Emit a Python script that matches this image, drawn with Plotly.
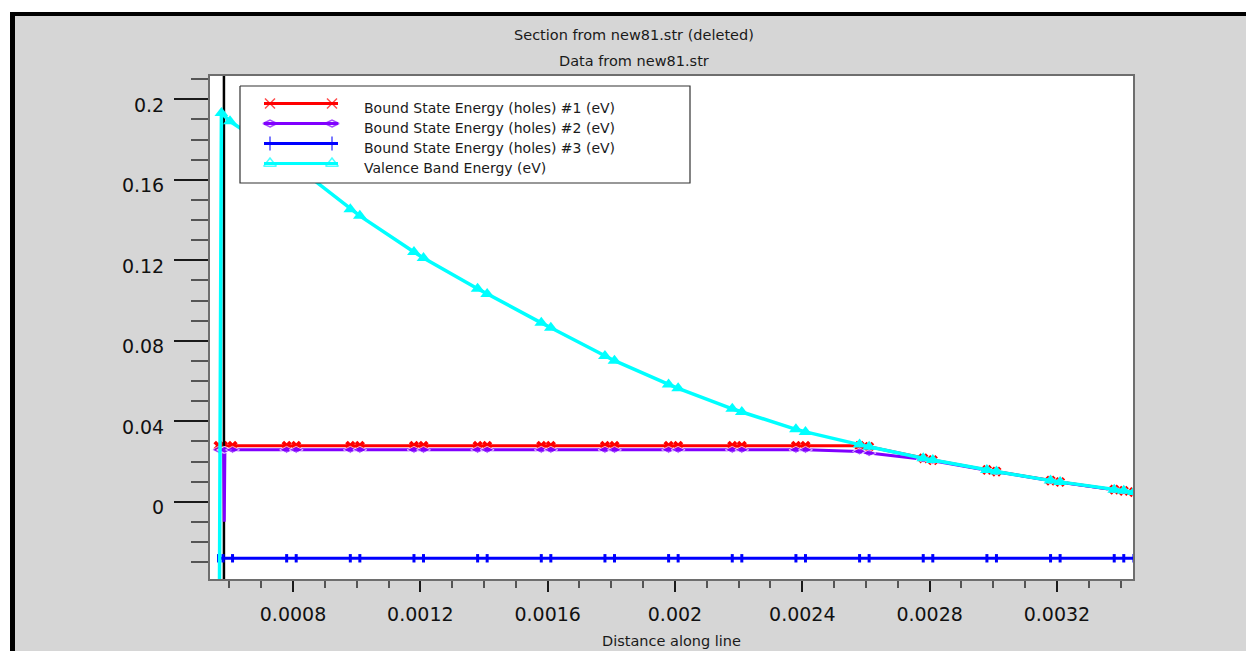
import plotly.graph_objects as go

# ---- data -----------------------------------------------------------------
# mesh positions along the cut line (cm) where the bound states are sampled
bound_pos = [0.000566, 0.00058, 0.00061,
             0.00078, 0.00081, 0.00098, 0.00101, 0.00118, 0.00121,
             0.00138, 0.00141, 0.00158, 0.00161, 0.00178, 0.00181,
             0.00198, 0.00201, 0.00218, 0.00221, 0.00238, 0.00241,
             0.00258, 0.00261, 0.00278, 0.00281, 0.00298, 0.00301,
             0.00318, 0.00321, 0.00338, 0.00341, 0.003442]

bound1_ev = [0.0278] * 22 + [0.0273, 0.0216, 0.0207, 0.0158, 0.0150,
                             0.0105, 0.0098, 0.0060, 0.0054, 0.0048]

bound2_pos = [0.000566, 0.000582, 0.000584, 0.000586, 0.00061,
              0.00078, 0.00081, 0.00098, 0.00101, 0.00118, 0.00121,
              0.00138, 0.00141, 0.00158, 0.00161, 0.00178, 0.00181,
              0.00198, 0.00201, 0.00218, 0.00221, 0.00238, 0.00241,
              0.00258, 0.00261, 0.00278, 0.00281, 0.00298, 0.00301,
              0.00318, 0.00321, 0.00338, 0.00341, 0.003442]
bound2_ev = [0.0258, 0.0258, -0.0100, 0.0258, 0.0258] + [0.0258] * 18 + [
    0.0250, 0.0242, 0.0211, 0.0204, 0.0157, 0.0149,
    0.0104, 0.0097, 0.0059, 0.0053, 0.0047]

bound3_ev = [-0.0281] * 32

vb_pos = [0.000568, 0.000575, 0.000602,
          0.00078, 0.00081, 0.00098, 0.00101, 0.00118, 0.00121,
          0.00138, 0.00141, 0.00158, 0.00161, 0.00178, 0.00181,
          0.00198, 0.00201, 0.00218, 0.00221, 0.00238, 0.00241,
          0.00258, 0.00261, 0.00278, 0.00281, 0.00298, 0.00301,
          0.00318, 0.00321, 0.00338, 0.00341, 0.003442]
vb_ev = [-0.0800, 0.1932, 0.1891,
         0.1704, 0.1667, 0.1454, 0.1421, 0.1241, 0.1211,
         0.1059, 0.1033, 0.0889, 0.0865, 0.0724, 0.0701,
         0.0583, 0.0564, 0.0462, 0.0446, 0.0360, 0.0347,
         0.0284, 0.0273, 0.0216, 0.0207, 0.0158, 0.0150,
         0.0105, 0.0098, 0.0060, 0.0054, 0.0048]

junction_pos = [0.000583, 0.000583]
junction_ev = [-0.1, 0.3]

series_names = ["Bound State Energy (holes) #1 (eV)",
                "Bound State Energy (holes) #2 (eV)",
                "Bound State Energy (holes) #3 (eV)",
                "Valence Band Energy (eV)"]

x_tick_vals = [0.0008, 0.0012, 0.0016, 0.002, 0.0024, 0.0028, 0.0032]
x_tick_text = ["0.0008", "0.0012", "0.0016", "0.002", "0.0024", "0.0028", "0.0032"]
y_tick_vals = [0, 0.04, 0.08, 0.12, 0.16, 0.2]
y_tick_text = ["0", "0.04", "0.08", "0.12", "0.16", "0.2"]

title_lines = ["Section from new81.str (deleted)", "Data from new81.str"]
x_title = "Distance along line"

# ---- geometry / style -----------------------------------------------------
W, H = 1246, 651
L, R, T, B = 210, 1133, 76, 579          # plot box in pixels
FONT = "DejaVu Sans"
BG = "#d6d6d6"
RED, PURPLE, BLUE, CYAN = "#ff0000", "#8000ff", "#0000ff", "#00ffff"


def fx(p):
    return (p - L) / (R - L)


def fy(p):
    return (B - p) / (B - T)


fig = go.Figure()

fig.add_trace(go.Scatter(
    x=bound_pos, y=bound1_ev, mode="lines+markers",
    line=dict(color=RED, width=3),
    marker=dict(symbol="x", size=9, color=RED),
    showlegend=False, hoverinfo="skip"))

fig.add_trace(go.Scatter(
    x=junction_pos, y=junction_ev, mode="lines",
    line=dict(color="black", width=2.5),
    showlegend=False, hoverinfo="skip"))

fig.add_trace(go.Scatter(
    x=bound2_pos, y=bound2_ev, mode="lines+markers",
    line=dict(color=PURPLE, width=3),
    marker=dict(symbol="diamond-wide", color=PURPLE,
                size=[0 if v < 0 else 10 for v in bound2_ev]),
    showlegend=False, hoverinfo="skip"))

fig.add_trace(go.Scatter(
    x=bound_pos, y=bound3_ev, mode="lines+markers",
    line=dict(color=BLUE, width=3),
    marker=dict(symbol="line-ns", size=6, line=dict(color=BLUE, width=3)),
    showlegend=False, hoverinfo="skip"))

fig.add_trace(go.Scatter(
    x=vb_pos, y=vb_ev, mode="lines+markers",
    line=dict(color=CYAN, width=3.5),
    marker=dict(symbol="triangle-up", size=12, color=CYAN),
    showlegend=False, hoverinfo="skip"))

# ---- legend box, drawn in pixel units on an overlay axis pair -------------
box_x0, box_x1, box_y0, box_y1 = 240, 690, 86, 183
fig.add_trace(go.Scatter(
    x=[box_x0, box_x1, box_x1, box_x0, box_x0],
    y=[box_y0, box_y0, box_y1, box_y1, box_y0],
    mode="lines", fill="toself", fillcolor="white",
    line=dict(color="#333333", width=1.2),
    xaxis="x2", yaxis="y2", showlegend=False, hoverinfo="skip"))

legend_rows = [103.5, 123.5, 143.5, 163.5]
legend_styles = [
    (RED, dict(symbol="x-thin-open", size=10, line=dict(color=RED, width=1.5))),
    (PURPLE, dict(symbol="diamond-wide-open", size=10,
                  line=dict(color="#a04cff", width=1.5))),
    (BLUE, dict(symbol="line-ns-open", size=10, line=dict(color=BLUE, width=1.5))),
    (CYAN, dict(symbol="triangle-up-open", size=11, line=dict(color=CYAN, width=1.5))),
]
for row, (col, mk) in zip(legend_rows, legend_styles):
    mk = dict(mk)
    mk["size"] = [0, mk["size"], mk["size"], 0]
    fig.add_trace(go.Scatter(
        x=[264, 270, 332, 338], y=[row] * 4, mode="lines+markers",
        line=dict(color=col, width=3), marker=mk,
        xaxis="x2", yaxis="y2", showlegend=False, hoverinfo="skip"))

annotations = []
for row, name in zip(legend_rows, series_names):
    annotations.append(dict(
        x=362, y=row + 4, xref="x2", yref="y2", text=name, showarrow=False,
        xanchor="left", yanchor="middle",
        font=dict(family=FONT, size=14, color="#1a1a1a")))

# ---- titles ---------------------------------------------------------------
for text, ypix in zip(title_lines, [35, 61]):
    annotations.append(dict(
        x=fx(634), y=fy(ypix), xref="paper", yref="paper", text=text,
        showarrow=False, xanchor="center", yanchor="middle",
        font=dict(family=FONT, size=14.5, color="#1a1a1a")))
annotations.append(dict(
    x=fx(671), y=fy(641), xref="paper", yref="paper", text=x_title,
    showarrow=False, xanchor="center", yanchor="middle",
    font=dict(family=FONT, size=14.5, color="#1a1a1a")))

# ---- window frame ---------------------------------------------------------
shapes = [
    dict(type="rect", xref="paper", yref="paper", x0=fx(0), x1=fx(W),
         y0=fy(0), y1=fy(12), fillcolor="white", line=dict(width=0)),
    dict(type="rect", xref="paper", yref="paper", x0=fx(0), x1=fx(10),
         y0=fy(0), y1=fy(H), fillcolor="white", line=dict(width=0)),
    dict(type="rect", xref="paper", yref="paper", x0=fx(10), x1=fx(W),
         y0=fy(12), y1=fy(16), fillcolor="black", line=dict(width=0)),
    dict(type="rect", xref="paper", yref="paper", x0=fx(10), x1=fx(15),
         y0=fy(12), y1=fy(H), fillcolor="black", line=dict(width=0)),
]

tick_font = dict(family=FONT, size=19, color="#111111")

fig.update_layout(
    width=W, height=H,
    margin=dict(l=L, r=W - R, t=T, b=H - B, pad=0),
    paper_bgcolor=BG, plot_bgcolor="white",
    showlegend=False,
    annotations=annotations, shapes=shapes,
    xaxis=dict(
        range=[0.0005392, 0.003439],
        tickmode="array", tickvals=x_tick_vals, ticktext=x_tick_text,
        showgrid=False, zeroline=False,
        showline=True, linecolor="#6e6e6e", linewidth=2, mirror=True,
        ticks="outside", ticklen=11, tickwidth=2, tickcolor="#1a1a1a",
        tickfont=tick_font, ticklabelstandoff=6,
        minor=dict(ticks="outside", tickmode="linear", tick0=0, dtick=0.0001,
                   ticklen=7, tickwidth=2, tickcolor="#555555", showgrid=False),
    ),
    yaxis=dict(
        range=[-0.0384, 0.2116],
        tickmode="array", tickvals=y_tick_vals, ticktext=y_tick_text,
        showgrid=False, zeroline=False,
        showline=True, linecolor="#6e6e6e", linewidth=2, mirror=True,
        ticks="outside", ticklen=34, tickwidth=2, tickcolor="#1a1a1a",
        tickfont=tick_font, ticklabelstandoff=6, ticklabelshift=6,
        minor=dict(ticks="outside", tickmode="linear", tick0=0, dtick=0.01,
                   ticklen=17, tickwidth=2, tickcolor="#555555", showgrid=False),
    ),
    xaxis2=dict(overlaying="x", range=[L, R], visible=False, fixedrange=True),
    yaxis2=dict(overlaying="y", range=[B, T], visible=False, fixedrange=True),
)

fig.write_html("out.html")
